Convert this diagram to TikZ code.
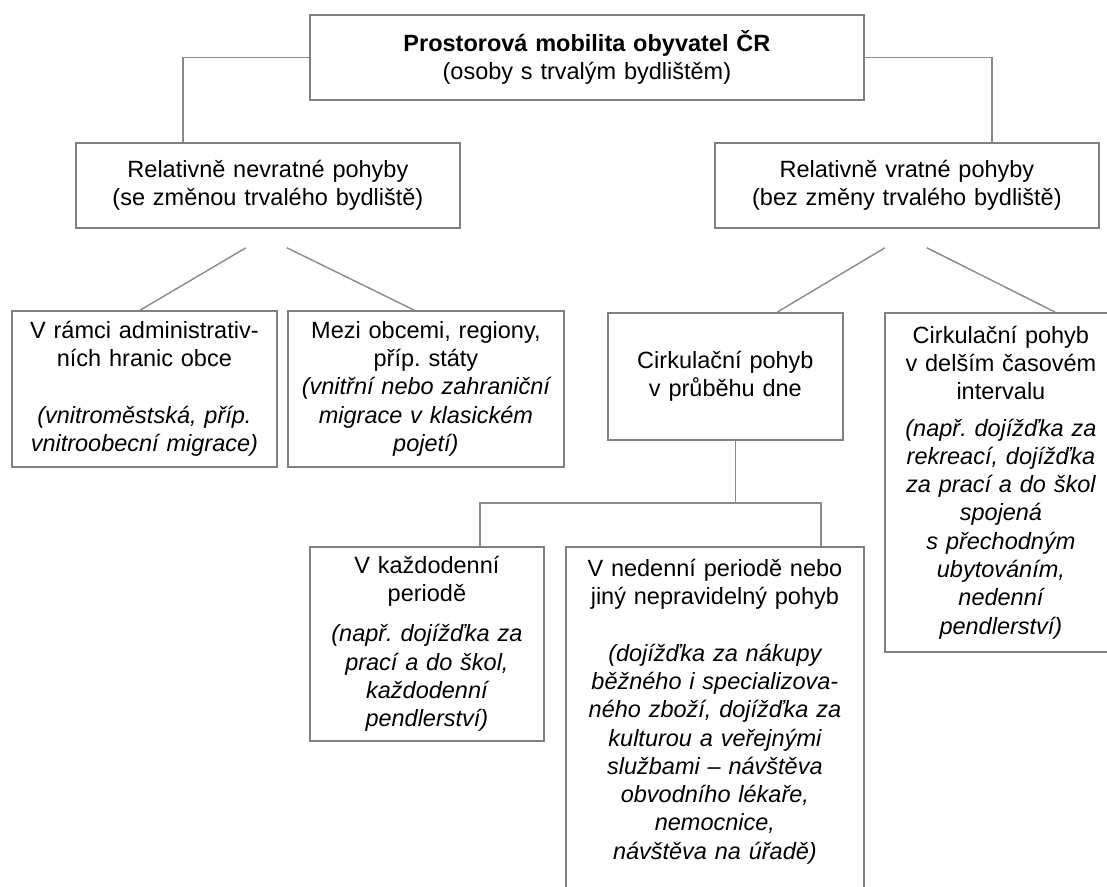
\documentclass[tikz,border=0pt]{standalone}
\usepackage{fontspec}
\setmainfont{Liberation Sans}
\usepackage{tikz}
\usetikzlibrary{
  calc,%
  positioning
}
\frenchspacing
\definecolor{boxgray}{RGB}{128,128,128}
\definecolor{linegray}{RGB}{138,138,138}
\tikzset{font=\fontsize{23.5}{28.3}\selectfont}
\tikzset{box/.style={draw=boxgray, line width=1.8pt, align=center,
    anchor=north west, inner xsep=0pt, inner ysep=0pt}}
\tikzset{link/.style={draw=linegray, line width=1.4pt}}

\begin{document}
\begin{tikzpicture}[x=1pt, y=-1pt]
  \useasboundingbox (0,0) rectangle (1107,886);
  % top level
  \node[box, text width=554pt, minimum height=85pt] (mob) at (309,14)
    {\textbf{Prostorová mobilita obyvatel ČR}\\(osoby s trvalým bydlištěm)};
  \node[box, text width=384pt, minimum height=85pt] (nevr) at (75,142)
    {Relativně nevratné pohyby\\(se změnou trvalého bydliště)};
  \node[box, text width=384pt, minimum height=85pt] (vrat) at (714,142)
    {Relativně vratné pohyby\\(bez změny trvalého bydliště)};
  % nevratne
  \node[box, text width=265pt, minimum height=156pt] (obec) at (11,310)
    {V rámci administrativ-\\ních hranic obce\\[28.3pt]
     \itshape (vnitroměstská, příp.\\vnitroobecní migrace)};
  \node[box, text width=276pt, minimum height=156pt] (stat) at (287,310)
    {Mezi obcemi, regiony,\\příp. státy\\
     \itshape (vnitřní nebo zahraniční\\migrace v klasickém\\pojetí)};
  % vratne
  \node[box, text width=235pt, minimum height=127pt] (den) at (607,312)
    {Cirkulační pohyb\\v průběhu dne};
  \node[box, text width=232pt, minimum height=339pt] (delsi) at (884,312)
    {Cirkulační pohyb\\v delším časovém\\intervalu\\[8pt]
     \itshape (např. dojížďka za\\rekreací, dojížďka\\za prací a do škol\\
     spojená\\s přechodným\\ubytováním,\\nedenní\\pendlerství)};
  \node[box, text width=234pt, minimum height=194pt] (kazd) at (309,546)
    {V každodenní\\periodě\\[12pt]
     \itshape (např. dojížďka za\\prací a do škol,\\každodenní\\pendlerství)};
  \node[box, text width=298pt, inner ysep=12pt, text depth=330pt] (nedn) at (565,546)
    {V nedenní periodě nebo\\jiný nepravidelný pohyb\\[28.3pt]
     \itshape (dojížďka za nákupy\\běžného i specializova-\\ného zboží, dojížďka za\\
     kulturou a veřejnými\\službami – návštěva\\obvodního lékaře,\\
     nemocnice,\\návštěva na úřadě)};
  % connectors
  \draw[link] (mob.west) -| ($(nevr.north)+(-85,0)$);
  \draw[link] (mob.east) -| ($(vrat.north)+(85,0)$);
  \draw[link] ($(nevr.south)+(-22,19)$) -- ($(obec.north)+(-4,0)$);
  \draw[link] ($(nevr.south)+(19,19)$) -- ($(stat.north)+(-12,0)$);
  \draw[link] ($(vrat.south)+(-22,19)$) -- ($(den.north)+(52,0)$);
  \draw[link] ($(vrat.south)+(20,19)$) -- ($(delsi.north)+(54,0)$);
  \coordinate (fork) at ($(den.south)+(10,62)$);
  \draw[link] ($(den.south)+(10,0)$) -- (fork);
  \draw[link] ($(kazd.north)+(53,0)$) |- (fork) -| ($(nedn.north)+(106,0)$);
\end{tikzpicture}
\end{document}
